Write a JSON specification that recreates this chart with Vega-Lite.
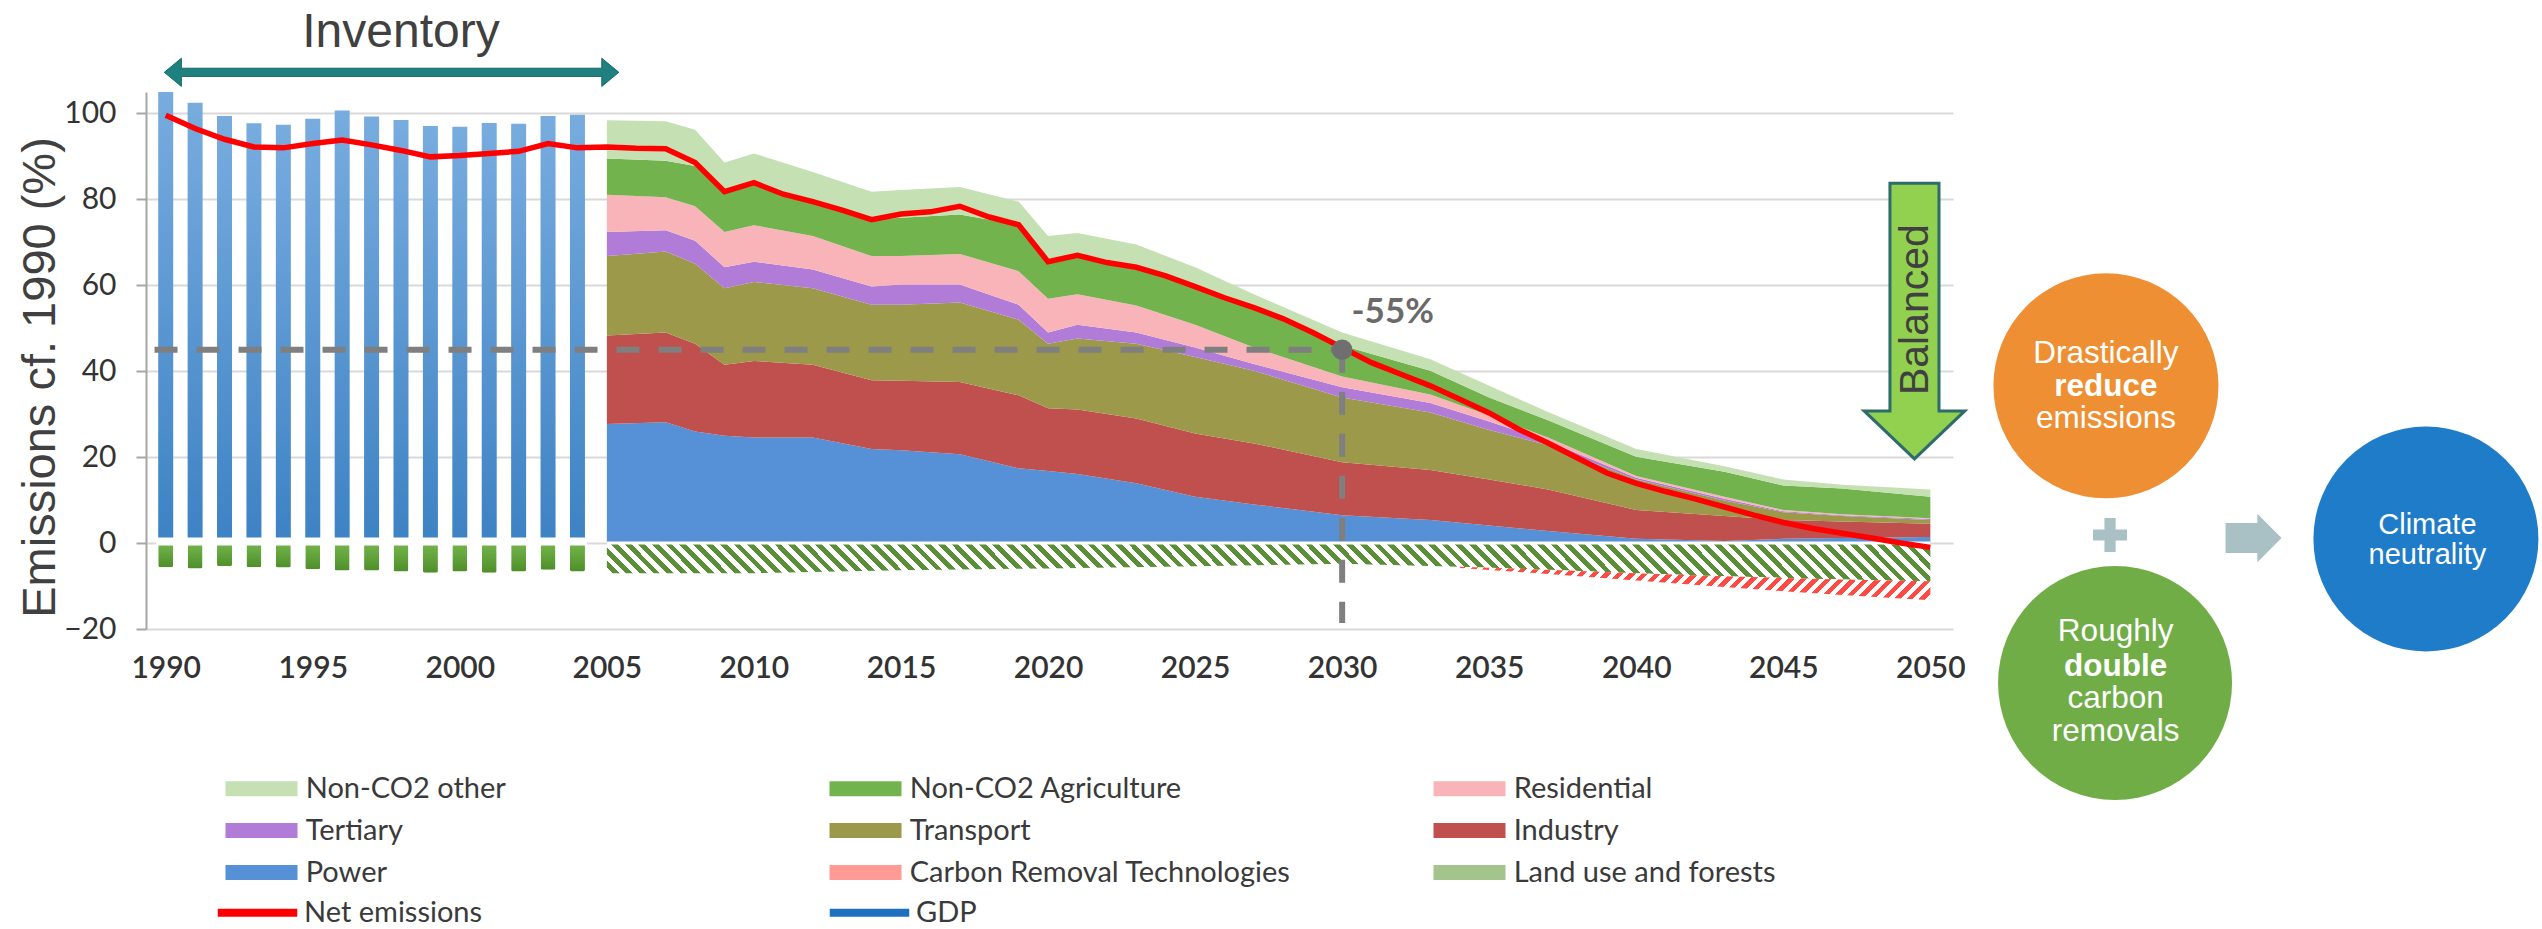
{
"$schema":"https://vega.github.io/schema/vega-lite/v6.json",
"width":1807,"height":537,
"autosize":{"type":"none"},
"padding":{"left":146,"top":92,"right":589,"bottom":300},
"background":"#ffffff",
"config":{"view":{"stroke":null},"font":"Liberation Sans",
 "axisX":{"domain":false,"ticks":false,"grid":false,"labelFont":"Lato","labelFontSize":30,"labelFontWeight":600,"labelColor":"#333333","labelPadding":24,"labelFlush":false,"labelOverlap":false},
 "axisY":{"domain":true,"domainColor":"#a6a6a6","domainWidth":2,"ticks":true,"tickColor":"#a6a6a6","tickSize":10,"tickWidth":2,"grid":true,"gridColor":"#d9d9d9","gridWidth":2,"labelFont":"Lato","labelFontSize":30,"labelColor":"#333333","labelPadding":20,"labelFlush":false,"titleFont":"Liberation Sans","titleFontSize":47,"titleFontWeight":"normal","titleColor":"#404040"}},
"datasets":{
"inventory":[
{"year":1990,"gross":105.0,"lulucf":-5.6},{"year":1991,"gross":102.5,"lulucf":-5.9},{"year":1992,"gross":99.4,"lulucf":-5.4},{"year":1993,"gross":97.7,"lulucf":-5.6},{"year":1994,"gross":97.4,"lulucf":-5.7},{"year":1995,"gross":98.8,"lulucf":-6.1},{"year":1996,"gross":100.7,"lulucf":-6.4},{"year":1997,"gross":99.3,"lulucf":-6.4},{"year":1998,"gross":98.5,"lulucf":-6.6},{"year":1999,"gross":97.1,"lulucf":-6.9},{"year":2000,"gross":96.9,"lulucf":-6.6},{"year":2001,"gross":97.8,"lulucf":-6.9},{"year":2002,"gross":97.6,"lulucf":-6.6},{"year":2003,"gross":99.4,"lulucf":-6.2},{"year":2004,"gross":99.7,"lulucf":-6.6}],
"sectors":[
{"year":2005,"Power":27.7,"Industry":20.6,"Transport":18.5,"Tertiary":5.6,"Residential":8.7,"Non-CO2 Agriculture":8.4,"Non-CO2 other":8.9},
{"year":2007,"Power":28.1,"Industry":20.9,"Transport":18.9,"Tertiary":4.9,"Residential":7.7,"Non-CO2 Agriculture":8.5,"Non-CO2 other":9.2},
{"year":2008,"Power":26.0,"Industry":20.4,"Transport":18.6,"Tertiary":5.4,"Residential":8.0,"Non-CO2 Agriculture":9.4,"Non-CO2 other":8.4},
{"year":2009,"Power":25.0,"Industry":16.5,"Transport":17.8,"Tertiary":4.9,"Residential":8.2,"Non-CO2 Agriculture":9.4,"Non-CO2 other":6.8},
{"year":2010,"Power":24.6,"Industry":17.8,"Transport":18.4,"Tertiary":4.7,"Residential":8.5,"Non-CO2 Agriculture":9.9,"Non-CO2 other":6.8},
{"year":2012,"Power":24.6,"Industry":16.9,"Transport":17.8,"Tertiary":4.4,"Residential":7.8,"Non-CO2 Agriculture":8.0,"Non-CO2 other":6.9},
{"year":2014,"Power":21.9,"Industry":16.0,"Transport":17.6,"Tertiary":4.2,"Residential":7.1,"Non-CO2 Agriculture":8.5,"Non-CO2 other":6.5},
{"year":2015,"Power":21.6,"Industry":16.2,"Transport":17.7,"Tertiary":4.7,"Residential":6.6,"Non-CO2 Agriculture":8.9,"Non-CO2 other":6.5},
{"year":2017,"Power":20.7,"Industry":16.8,"Transport":18.5,"Tertiary":4.2,"Residential":7.1,"Non-CO2 Agriculture":9.2,"Non-CO2 other":6.4},
{"year":2019,"Power":17.4,"Industry":17.0,"Transport":17.6,"Tertiary":3.5,"Residential":7.8,"Non-CO2 Agriculture":10.8,"Non-CO2 other":5.4},
{"year":2020,"Power":16.8,"Industry":14.6,"Transport":15.0,"Tertiary":2.6,"Residential":7.9,"Non-CO2 Agriculture":8.9,"Non-CO2 other":5.7},
{"year":2021,"Power":16.1,"Industry":15.0,"Transport":16.5,"Tertiary":3.2,"Residential":7.1,"Non-CO2 Agriculture":8.8,"Non-CO2 other":5.5},
{"year":2023,"Power":13.9,"Industry":15.1,"Transport":17.4,"Tertiary":2.6,"Residential":6.3,"Non-CO2 Agriculture":8.9,"Non-CO2 other":5.3},
{"year":2025,"Power":10.8,"Industry":14.7,"Transport":17.8,"Tertiary":2.2,"Residential":5.3,"Non-CO2 Agriculture":8.5,"Non-CO2 other":4.9},
{"year":2027,"Power":9.0,"Industry":14.2,"Transport":16.9,"Tertiary":1.6,"Residential":3.8,"Non-CO2 Agriculture":8.9,"Non-CO2 other":3.5},
{"year":2030,"Power":6.5,"Industry":12.3,"Transport":15.1,"Tertiary":2.4,"Residential":2.5,"Non-CO2 Agriculture":7.2,"Non-CO2 other":3.0},
{"year":2033,"Power":5.4,"Industry":11.6,"Transport":13.4,"Tertiary":2.2,"Residential":2.0,"Non-CO2 Agriculture":5.5,"Non-CO2 other":2.7},
{"year":2035,"Power":4.1,"Industry":10.7,"Transport":11.5,"Tertiary":2.0,"Residential":1.4,"Non-CO2 Agriculture":4.2,"Non-CO2 other":2.7},
{"year":2037,"Power":2.8,"Industry":9.7,"Transport":10.3,"Tertiary":0.9,"Residential":0.9,"Non-CO2 Agriculture":4.0,"Non-CO2 other":1.9},
{"year":2040,"Power":1.0,"Industry":6.7,"Transport":7.1,"Tertiary":0.4,"Residential":0.4,"Non-CO2 Agriculture":4.5,"Non-CO2 other":1.8},
{"year":2043,"Power":0.5,"Industry":5.8,"Transport":3.6,"Tertiary":0.4,"Residential":0.5,"Non-CO2 Agriculture":5.8,"Non-CO2 other":1.3},
{"year":2045,"Power":1.0,"Industry":4.4,"Transport":1.8,"Tertiary":0.2,"Residential":0.3,"Non-CO2 Agriculture":5.7,"Non-CO2 other":1.4},
{"year":2047,"Power":1.2,"Industry":3.8,"Transport":1.3,"Tertiary":0.2,"Residential":0.2,"Non-CO2 Agriculture":6.0,"Non-CO2 other":0.9},
{"year":2050,"Power":1.4,"Industry":3.1,"Transport":0.9,"Tertiary":0.2,"Residential":0.2,"Non-CO2 Agriculture":5.0,"Non-CO2 other":1.7}],
"removals":[
{"year":2005,"kind":"Land use and forests","value":-7.0},{"year":2010,"kind":"Land use and forests","value":-7.0},{"year":2015,"kind":"Land use and forests","value":-6.3},{"year":2020,"kind":"Land use and forests","value":-5.9},{"year":2025,"kind":"Land use and forests","value":-5.4},{"year":2030,"kind":"Land use and forests","value":-4.8},{"year":2034,"kind":"Land use and forests","value":-5.5},{"year":2037,"kind":"Land use and forests","value":-6.2},{"year":2040,"kind":"Land use and forests","value":-7.0},{"year":2043,"kind":"Land use and forests","value":-7.7},{"year":2045,"kind":"Land use and forests","value":-8.1},{"year":2047,"kind":"Land use and forests","value":-8.5},{"year":2050,"kind":"Land use and forests","value":-8.9},
{"year":2034,"kind":"Carbon Removal Technologies","value":-0.3},{"year":2037,"kind":"Carbon Removal Technologies","value":-1.0},{"year":2040,"kind":"Carbon Removal Technologies","value":-1.7},{"year":2043,"kind":"Carbon Removal Technologies","value":-2.5},{"year":2045,"kind":"Carbon Removal Technologies","value":-3.1},{"year":2047,"kind":"Carbon Removal Technologies","value":-3.6},{"year":2050,"kind":"Carbon Removal Technologies","value":-4.4}],
"net":[
{"year":1990,"net":99.6},{"year":1991,"net":96.5},{"year":1992,"net":94.0},{"year":1993,"net":92.2},{"year":1994,"net":92.0},{"year":1995,"net":93.0},{"year":1996,"net":93.8},{"year":1997,"net":92.7},{"year":1998,"net":91.4},{"year":1999,"net":89.9},{"year":2000,"net":90.2},{"year":2001,"net":90.7},{"year":2002,"net":91.2},{"year":2003,"net":93.0},{"year":2004,"net":92.0},{"year":2005,"net":92.2},{"year":2006,"net":91.9},{"year":2007,"net":91.8},{"year":2008,"net":88.6},{"year":2009,"net":81.8},{"year":2010,"net":83.9},{"year":2011,"net":81.2},{"year":2012,"net":79.5},{"year":2013,"net":77.5},{"year":2014,"net":75.3},{"year":2015,"net":76.6},{"year":2016,"net":77.1},{"year":2017,"net":78.4},{"year":2018,"net":75.9},{"year":2019,"net":74.1},{"year":2020,"net":65.5},{"year":2021,"net":67.0},{"year":2022,"net":65.3},{"year":2023,"net":64.2},{"year":2024,"net":62.2},{"year":2025,"net":59.7},{"year":2026,"net":57.1},{"year":2027,"net":54.8},{"year":2028,"net":52.2},{"year":2029,"net":49.0},{"year":2030,"net":45.5},{"year":2031,"net":42.0},{"year":2032,"net":39.3},{"year":2033,"net":36.6},{"year":2034,"net":33.5},{"year":2035,"net":30.3},{"year":2036,"net":26.5},{"year":2037,"net":23.3},{"year":2038,"net":19.8},{"year":2039,"net":16.3},{"year":2040,"net":13.9},{"year":2041,"net":12.0},{"year":2042,"net":10.3},{"year":2043,"net":8.4},{"year":2044,"net":6.5},{"year":2045,"net":4.8},{"year":2046,"net":3.4},{"year":2047,"net":2.3},{"year":2048,"net":1.2},{"year":2049,"net":0.0},{"year":2050,"net":-1.0}]
},
"layer":[
{"data":{"name":"inventory"},
 "mark":{"type":"bar","orient":"vertical","width":15,"fill":{"gradient":"linear","x1":0,"y1":0,"x2":0,"y2":1,"stops":[{"offset":0,"color":"#78acdf"},{"offset":1,"color":"#3d82c4"}]}},
 "encoding":{
  "x":{"field":"year","type":"quantitative","scale":{"domain":[1989.5,2050.6],"nice":false,"zero":false},
   "axis":{"values":[1990,1995,2000,2005,2010,2015,2020,2025,2030,2035,2040,2045,2050],"format":"d","title":null}},
  "y":{"field":"gross","type":"quantitative","scale":{"domain":[-20,105],"nice":false,"zero":false},
   "axis":{"values":[-20,0,20,40,60,80,100],"title":"Emissions cf. 1990 (%)","titleAngle":-90,"titleX":-106,"titleY":285,"titleAlign":"center","titleBaseline":"middle"}}
 }},
{"data":{"name":"inventory"},
 "mark":{"type":"bar","orient":"vertical","width":15,"cornerRadius":2,"fill":{"gradient":"linear","x1":0,"y1":0,"x2":0,"y2":1,"stops":[{"offset":0,"color":"#74b64c"},{"offset":1,"color":"#4f8f2b"}]}},
 "encoding":{
  "x":{"field":"year","type":"quantitative"},
  "y":{"field":"lulucf","type":"quantitative"}
 }},
{"data":{"values":[{}]},
 "mark":{"type":"rule","color":"#ffffff","strokeWidth":8},
 "encoding":{"x":{"datum":1989.68,"type":"quantitative"},"x2":{"datum":2004.32},"y":{"datum":0.35,"type":"quantitative"}}},
{"data":{"name":"sectors"},
 "transform":[{"fold":["Power","Industry","Transport","Tertiary","Residential","Non-CO2 Agriculture","Non-CO2 other"],"as":["sector","value"]},{"stack":"value","groupby":["year"],"as":["v0","v1"]}],
 "mark":{"type":"area","interpolate":"linear"},
 "encoding":{
  "x":{"field":"year","type":"quantitative"},
  "y":{"field":"v1","type":"quantitative"},
  "y2":{"field":"v0"},
  "color":{"field":"sector","type":"nominal",
   "scale":{"domain":["Non-CO2 other","Non-CO2 Agriculture","Residential","Tertiary","Transport","Industry","Power","Carbon Removal Technologies","Land use and forests"],
            "range":["#c5e0b3","#72b34e","#f9b4b9","#b07cd8","#9c994b","#c0504d","#5690d6","#ff9a94","#a3c48c"]},
   "legend":{"title":null,"orient":"none","direction":"horizontal","legendX":101,"legendY":682,"columns":3,"gridAlign":"all","columnPadding":142,"rowPadding":12,"padding":0,
    "labelFont":"Lato","labelFontSize":29,"labelColor":"#3a3a3a","labelLimit":1000,"labelOffset":29.7,
    "symbolSize":225,"symbolType":"M-4.8,-1H4.8V1H-4.8Z","symbolStrokeWidth":0,"symbolOffset":0,"symbolOpacity":1}}
 }},
{"data":{"name":"removals"},
 "transform":[{"stack":"value","groupby":["year"],"as":["r0","r1"]},{"filter":"datum.kind === 'Land use and forests'"}],
 "mark":{"type":"area","interpolate":"linear","fill":{"gradient":"linear","x1":0,"y1":1,"x2":1.0279,"y2":0.9705,"stops":[
{"offset":0,"color":"#5b8f37"},{"offset":0.005,"color":"#5b8f37"},{"offset":0.005,"color":"#fff"},{"offset":0.01,"color":"#fff"},
{"offset":0.01,"color":"#5b8f37"},{"offset":0.015,"color":"#5b8f37"},{"offset":0.015,"color":"#fff"},{"offset":0.02,"color":"#fff"},
{"offset":0.02,"color":"#5b8f37"},{"offset":0.025,"color":"#5b8f37"},{"offset":0.025,"color":"#fff"},{"offset":0.03,"color":"#fff"},
{"offset":0.03,"color":"#5b8f37"},{"offset":0.035,"color":"#5b8f37"},{"offset":0.035,"color":"#fff"},{"offset":0.04,"color":"#fff"},
{"offset":0.04,"color":"#5b8f37"},{"offset":0.045,"color":"#5b8f37"},{"offset":0.045,"color":"#fff"},{"offset":0.05,"color":"#fff"},
{"offset":0.05,"color":"#5b8f37"},{"offset":0.055,"color":"#5b8f37"},{"offset":0.055,"color":"#fff"},{"offset":0.06,"color":"#fff"},
{"offset":0.06,"color":"#5b8f37"},{"offset":0.065,"color":"#5b8f37"},{"offset":0.065,"color":"#fff"},{"offset":0.07,"color":"#fff"},
{"offset":0.07,"color":"#5b8f37"},{"offset":0.075,"color":"#5b8f37"},{"offset":0.075,"color":"#fff"},{"offset":0.08,"color":"#fff"},
{"offset":0.08,"color":"#5b8f37"},{"offset":0.085,"color":"#5b8f37"},{"offset":0.085,"color":"#fff"},{"offset":0.09,"color":"#fff"},
{"offset":0.09,"color":"#5b8f37"},{"offset":0.095,"color":"#5b8f37"},{"offset":0.095,"color":"#fff"},{"offset":0.1,"color":"#fff"},
{"offset":0.1,"color":"#5b8f37"},{"offset":0.105,"color":"#5b8f37"},{"offset":0.105,"color":"#fff"},{"offset":0.11,"color":"#fff"},
{"offset":0.11,"color":"#5b8f37"},{"offset":0.115,"color":"#5b8f37"},{"offset":0.115,"color":"#fff"},{"offset":0.12,"color":"#fff"},
{"offset":0.12,"color":"#5b8f37"},{"offset":0.125,"color":"#5b8f37"},{"offset":0.125,"color":"#fff"},{"offset":0.13,"color":"#fff"},
{"offset":0.13,"color":"#5b8f37"},{"offset":0.135,"color":"#5b8f37"},{"offset":0.135,"color":"#fff"},{"offset":0.14,"color":"#fff"},
{"offset":0.14,"color":"#5b8f37"},{"offset":0.145,"color":"#5b8f37"},{"offset":0.145,"color":"#fff"},{"offset":0.15,"color":"#fff"},
{"offset":0.15,"color":"#5b8f37"},{"offset":0.155,"color":"#5b8f37"},{"offset":0.155,"color":"#fff"},{"offset":0.16,"color":"#fff"},
{"offset":0.16,"color":"#5b8f37"},{"offset":0.165,"color":"#5b8f37"},{"offset":0.165,"color":"#fff"},{"offset":0.17,"color":"#fff"},
{"offset":0.17,"color":"#5b8f37"},{"offset":0.175,"color":"#5b8f37"},{"offset":0.175,"color":"#fff"},{"offset":0.18,"color":"#fff"},
{"offset":0.18,"color":"#5b8f37"},{"offset":0.185,"color":"#5b8f37"},{"offset":0.185,"color":"#fff"},{"offset":0.19,"color":"#fff"},
{"offset":0.19,"color":"#5b8f37"},{"offset":0.195,"color":"#5b8f37"},{"offset":0.195,"color":"#fff"},{"offset":0.2,"color":"#fff"},
{"offset":0.2,"color":"#5b8f37"},{"offset":0.205,"color":"#5b8f37"},{"offset":0.205,"color":"#fff"},{"offset":0.21,"color":"#fff"},
{"offset":0.21,"color":"#5b8f37"},{"offset":0.215,"color":"#5b8f37"},{"offset":0.215,"color":"#fff"},{"offset":0.22,"color":"#fff"},
{"offset":0.22,"color":"#5b8f37"},{"offset":0.225,"color":"#5b8f37"},{"offset":0.225,"color":"#fff"},{"offset":0.23,"color":"#fff"},
{"offset":0.23,"color":"#5b8f37"},{"offset":0.235,"color":"#5b8f37"},{"offset":0.235,"color":"#fff"},{"offset":0.24,"color":"#fff"},
{"offset":0.24,"color":"#5b8f37"},{"offset":0.245,"color":"#5b8f37"},{"offset":0.245,"color":"#fff"},{"offset":0.25,"color":"#fff"},
{"offset":0.25,"color":"#5b8f37"},{"offset":0.255,"color":"#5b8f37"},{"offset":0.255,"color":"#fff"},{"offset":0.26,"color":"#fff"},
{"offset":0.26,"color":"#5b8f37"},{"offset":0.265,"color":"#5b8f37"},{"offset":0.265,"color":"#fff"},{"offset":0.27,"color":"#fff"},
{"offset":0.27,"color":"#5b8f37"},{"offset":0.275,"color":"#5b8f37"},{"offset":0.275,"color":"#fff"},{"offset":0.28,"color":"#fff"},
{"offset":0.28,"color":"#5b8f37"},{"offset":0.285,"color":"#5b8f37"},{"offset":0.285,"color":"#fff"},{"offset":0.29,"color":"#fff"},
{"offset":0.29,"color":"#5b8f37"},{"offset":0.295,"color":"#5b8f37"},{"offset":0.295,"color":"#fff"},{"offset":0.3,"color":"#fff"},
{"offset":0.3,"color":"#5b8f37"},{"offset":0.305,"color":"#5b8f37"},{"offset":0.305,"color":"#fff"},{"offset":0.31,"color":"#fff"},
{"offset":0.31,"color":"#5b8f37"},{"offset":0.315,"color":"#5b8f37"},{"offset":0.315,"color":"#fff"},{"offset":0.32,"color":"#fff"},
{"offset":0.32,"color":"#5b8f37"},{"offset":0.325,"color":"#5b8f37"},{"offset":0.325,"color":"#fff"},{"offset":0.33,"color":"#fff"},
{"offset":0.33,"color":"#5b8f37"},{"offset":0.335,"color":"#5b8f37"},{"offset":0.335,"color":"#fff"},{"offset":0.34,"color":"#fff"},
{"offset":0.34,"color":"#5b8f37"},{"offset":0.345,"color":"#5b8f37"},{"offset":0.345,"color":"#fff"},{"offset":0.35,"color":"#fff"},
{"offset":0.35,"color":"#5b8f37"},{"offset":0.355,"color":"#5b8f37"},{"offset":0.355,"color":"#fff"},{"offset":0.36,"color":"#fff"},
{"offset":0.36,"color":"#5b8f37"},{"offset":0.365,"color":"#5b8f37"},{"offset":0.365,"color":"#fff"},{"offset":0.37,"color":"#fff"},
{"offset":0.37,"color":"#5b8f37"},{"offset":0.375,"color":"#5b8f37"},{"offset":0.375,"color":"#fff"},{"offset":0.38,"color":"#fff"},
{"offset":0.38,"color":"#5b8f37"},{"offset":0.385,"color":"#5b8f37"},{"offset":0.385,"color":"#fff"},{"offset":0.39,"color":"#fff"},
{"offset":0.39,"color":"#5b8f37"},{"offset":0.395,"color":"#5b8f37"},{"offset":0.395,"color":"#fff"},{"offset":0.4,"color":"#fff"},
{"offset":0.4,"color":"#5b8f37"},{"offset":0.405,"color":"#5b8f37"},{"offset":0.405,"color":"#fff"},{"offset":0.41,"color":"#fff"},
{"offset":0.41,"color":"#5b8f37"},{"offset":0.415,"color":"#5b8f37"},{"offset":0.415,"color":"#fff"},{"offset":0.42,"color":"#fff"},
{"offset":0.42,"color":"#5b8f37"},{"offset":0.425,"color":"#5b8f37"},{"offset":0.425,"color":"#fff"},{"offset":0.43,"color":"#fff"},
{"offset":0.43,"color":"#5b8f37"},{"offset":0.435,"color":"#5b8f37"},{"offset":0.435,"color":"#fff"},{"offset":0.44,"color":"#fff"},
{"offset":0.44,"color":"#5b8f37"},{"offset":0.445,"color":"#5b8f37"},{"offset":0.445,"color":"#fff"},{"offset":0.45,"color":"#fff"},
{"offset":0.45,"color":"#5b8f37"},{"offset":0.455,"color":"#5b8f37"},{"offset":0.455,"color":"#fff"},{"offset":0.46,"color":"#fff"},
{"offset":0.46,"color":"#5b8f37"},{"offset":0.465,"color":"#5b8f37"},{"offset":0.465,"color":"#fff"},{"offset":0.47,"color":"#fff"},
{"offset":0.47,"color":"#5b8f37"},{"offset":0.475,"color":"#5b8f37"},{"offset":0.475,"color":"#fff"},{"offset":0.48,"color":"#fff"},
{"offset":0.48,"color":"#5b8f37"},{"offset":0.485,"color":"#5b8f37"},{"offset":0.485,"color":"#fff"},{"offset":0.49,"color":"#fff"},
{"offset":0.49,"color":"#5b8f37"},{"offset":0.495,"color":"#5b8f37"},{"offset":0.495,"color":"#fff"},{"offset":0.5,"color":"#fff"},
{"offset":0.5,"color":"#5b8f37"},{"offset":0.505,"color":"#5b8f37"},{"offset":0.505,"color":"#fff"},{"offset":0.51,"color":"#fff"},
{"offset":0.51,"color":"#5b8f37"},{"offset":0.515,"color":"#5b8f37"},{"offset":0.515,"color":"#fff"},{"offset":0.52,"color":"#fff"},
{"offset":0.52,"color":"#5b8f37"},{"offset":0.525,"color":"#5b8f37"},{"offset":0.525,"color":"#fff"},{"offset":0.53,"color":"#fff"},
{"offset":0.53,"color":"#5b8f37"},{"offset":0.535,"color":"#5b8f37"},{"offset":0.535,"color":"#fff"},{"offset":0.54,"color":"#fff"},
{"offset":0.54,"color":"#5b8f37"},{"offset":0.545,"color":"#5b8f37"},{"offset":0.545,"color":"#fff"},{"offset":0.55,"color":"#fff"},
{"offset":0.55,"color":"#5b8f37"},{"offset":0.555,"color":"#5b8f37"},{"offset":0.555,"color":"#fff"},{"offset":0.56,"color":"#fff"},
{"offset":0.56,"color":"#5b8f37"},{"offset":0.565,"color":"#5b8f37"},{"offset":0.565,"color":"#fff"},{"offset":0.57,"color":"#fff"},
{"offset":0.57,"color":"#5b8f37"},{"offset":0.575,"color":"#5b8f37"},{"offset":0.575,"color":"#fff"},{"offset":0.58,"color":"#fff"},
{"offset":0.58,"color":"#5b8f37"},{"offset":0.585,"color":"#5b8f37"},{"offset":0.585,"color":"#fff"},{"offset":0.59,"color":"#fff"},
{"offset":0.59,"color":"#5b8f37"},{"offset":0.595,"color":"#5b8f37"},{"offset":0.595,"color":"#fff"},{"offset":0.6,"color":"#fff"},
{"offset":0.6,"color":"#5b8f37"},{"offset":0.605,"color":"#5b8f37"},{"offset":0.605,"color":"#fff"},{"offset":0.61,"color":"#fff"},
{"offset":0.61,"color":"#5b8f37"},{"offset":0.615,"color":"#5b8f37"},{"offset":0.615,"color":"#fff"},{"offset":0.62,"color":"#fff"},
{"offset":0.62,"color":"#5b8f37"},{"offset":0.625,"color":"#5b8f37"},{"offset":0.625,"color":"#fff"},{"offset":0.63,"color":"#fff"},
{"offset":0.63,"color":"#5b8f37"},{"offset":0.635,"color":"#5b8f37"},{"offset":0.635,"color":"#fff"},{"offset":0.64,"color":"#fff"},
{"offset":0.64,"color":"#5b8f37"},{"offset":0.645,"color":"#5b8f37"},{"offset":0.645,"color":"#fff"},{"offset":0.65,"color":"#fff"},
{"offset":0.65,"color":"#5b8f37"},{"offset":0.655,"color":"#5b8f37"},{"offset":0.655,"color":"#fff"},{"offset":0.66,"color":"#fff"},
{"offset":0.66,"color":"#5b8f37"},{"offset":0.665,"color":"#5b8f37"},{"offset":0.665,"color":"#fff"},{"offset":0.67,"color":"#fff"},
{"offset":0.67,"color":"#5b8f37"},{"offset":0.675,"color":"#5b8f37"},{"offset":0.675,"color":"#fff"},{"offset":0.68,"color":"#fff"},
{"offset":0.68,"color":"#5b8f37"},{"offset":0.685,"color":"#5b8f37"},{"offset":0.685,"color":"#fff"},{"offset":0.69,"color":"#fff"},
{"offset":0.69,"color":"#5b8f37"},{"offset":0.695,"color":"#5b8f37"},{"offset":0.695,"color":"#fff"},{"offset":0.7,"color":"#fff"},
{"offset":0.7,"color":"#5b8f37"},{"offset":0.705,"color":"#5b8f37"},{"offset":0.705,"color":"#fff"},{"offset":0.71,"color":"#fff"},
{"offset":0.71,"color":"#5b8f37"},{"offset":0.715,"color":"#5b8f37"},{"offset":0.715,"color":"#fff"},{"offset":0.72,"color":"#fff"},
{"offset":0.72,"color":"#5b8f37"},{"offset":0.725,"color":"#5b8f37"},{"offset":0.725,"color":"#fff"},{"offset":0.73,"color":"#fff"},
{"offset":0.73,"color":"#5b8f37"},{"offset":0.735,"color":"#5b8f37"},{"offset":0.735,"color":"#fff"},{"offset":0.74,"color":"#fff"},
{"offset":0.74,"color":"#5b8f37"},{"offset":0.745,"color":"#5b8f37"},{"offset":0.745,"color":"#fff"},{"offset":0.75,"color":"#fff"},
{"offset":0.75,"color":"#5b8f37"},{"offset":0.755,"color":"#5b8f37"},{"offset":0.755,"color":"#fff"},{"offset":0.76,"color":"#fff"},
{"offset":0.76,"color":"#5b8f37"},{"offset":0.765,"color":"#5b8f37"},{"offset":0.765,"color":"#fff"},{"offset":0.77,"color":"#fff"},
{"offset":0.77,"color":"#5b8f37"},{"offset":0.775,"color":"#5b8f37"},{"offset":0.775,"color":"#fff"},{"offset":0.78,"color":"#fff"},
{"offset":0.78,"color":"#5b8f37"},{"offset":0.785,"color":"#5b8f37"},{"offset":0.785,"color":"#fff"},{"offset":0.79,"color":"#fff"},
{"offset":0.79,"color":"#5b8f37"},{"offset":0.795,"color":"#5b8f37"},{"offset":0.795,"color":"#fff"},{"offset":0.8,"color":"#fff"},
{"offset":0.8,"color":"#5b8f37"},{"offset":0.805,"color":"#5b8f37"},{"offset":0.805,"color":"#fff"},{"offset":0.81,"color":"#fff"},
{"offset":0.81,"color":"#5b8f37"},{"offset":0.815,"color":"#5b8f37"},{"offset":0.815,"color":"#fff"},{"offset":0.82,"color":"#fff"},
{"offset":0.82,"color":"#5b8f37"},{"offset":0.825,"color":"#5b8f37"},{"offset":0.825,"color":"#fff"},{"offset":0.83,"color":"#fff"},
{"offset":0.83,"color":"#5b8f37"},{"offset":0.835,"color":"#5b8f37"},{"offset":0.835,"color":"#fff"},{"offset":0.84,"color":"#fff"},
{"offset":0.84,"color":"#5b8f37"},{"offset":0.845,"color":"#5b8f37"},{"offset":0.845,"color":"#fff"},{"offset":0.85,"color":"#fff"},
{"offset":0.85,"color":"#5b8f37"},{"offset":0.855,"color":"#5b8f37"},{"offset":0.855,"color":"#fff"},{"offset":0.86,"color":"#fff"},
{"offset":0.86,"color":"#5b8f37"},{"offset":0.865,"color":"#5b8f37"},{"offset":0.865,"color":"#fff"},{"offset":0.87,"color":"#fff"},
{"offset":0.87,"color":"#5b8f37"},{"offset":0.875,"color":"#5b8f37"},{"offset":0.875,"color":"#fff"},{"offset":0.88,"color":"#fff"},
{"offset":0.88,"color":"#5b8f37"},{"offset":0.885,"color":"#5b8f37"},{"offset":0.885,"color":"#fff"},{"offset":0.89,"color":"#fff"},
{"offset":0.89,"color":"#5b8f37"},{"offset":0.895,"color":"#5b8f37"},{"offset":0.895,"color":"#fff"},{"offset":0.9,"color":"#fff"},
{"offset":0.9,"color":"#5b8f37"},{"offset":0.905,"color":"#5b8f37"},{"offset":0.905,"color":"#fff"},{"offset":0.91,"color":"#fff"},
{"offset":0.91,"color":"#5b8f37"},{"offset":0.915,"color":"#5b8f37"},{"offset":0.915,"color":"#fff"},{"offset":0.92,"color":"#fff"},
{"offset":0.92,"color":"#5b8f37"},{"offset":0.925,"color":"#5b8f37"},{"offset":0.925,"color":"#fff"},{"offset":0.93,"color":"#fff"},
{"offset":0.93,"color":"#5b8f37"},{"offset":0.935,"color":"#5b8f37"},{"offset":0.935,"color":"#fff"},{"offset":0.94,"color":"#fff"},
{"offset":0.94,"color":"#5b8f37"},{"offset":0.945,"color":"#5b8f37"},{"offset":0.945,"color":"#fff"},{"offset":0.95,"color":"#fff"},
{"offset":0.95,"color":"#5b8f37"},{"offset":0.955,"color":"#5b8f37"},{"offset":0.955,"color":"#fff"},{"offset":0.96,"color":"#fff"},
{"offset":0.96,"color":"#5b8f37"},{"offset":0.965,"color":"#5b8f37"},{"offset":0.965,"color":"#fff"},{"offset":0.97,"color":"#fff"},
{"offset":0.97,"color":"#5b8f37"},{"offset":0.975,"color":"#5b8f37"},{"offset":0.975,"color":"#fff"},{"offset":0.98,"color":"#fff"},
{"offset":0.98,"color":"#5b8f37"},{"offset":0.985,"color":"#5b8f37"},{"offset":0.985,"color":"#fff"},{"offset":0.99,"color":"#fff"},
{"offset":0.99,"color":"#5b8f37"},{"offset":0.995,"color":"#5b8f37"},{"offset":0.995,"color":"#fff"},{"offset":1,"color":"#fff"}]}},
 "encoding":{
  "x":{"field":"year","type":"quantitative"},
  "y":{"field":"r1","type":"quantitative"},
  "y2":{"field":"r0"}
 }},
{"data":{"name":"removals"},
 "transform":[{"stack":"value","groupby":["year"],"as":["r0","r1"]},{"filter":"datum.kind === 'Carbon Removal Technologies'"}],
 "mark":{"type":"area","interpolate":"linear","fill":{"gradient":"linear","x1":0,"y1":0,"x2":1.0655,"y2":0.0754,"stops":[
{"offset":0,"color":"#ff4b43"},{"offset":0.0125,"color":"#ff4b43"},{"offset":0.0125,"color":"#fff"},{"offset":0.025,"color":"#fff"},
{"offset":0.025,"color":"#ff4b43"},{"offset":0.0375,"color":"#ff4b43"},{"offset":0.0375,"color":"#fff"},{"offset":0.05,"color":"#fff"},
{"offset":0.05,"color":"#ff4b43"},{"offset":0.0625,"color":"#ff4b43"},{"offset":0.0625,"color":"#fff"},{"offset":0.075,"color":"#fff"},
{"offset":0.075,"color":"#ff4b43"},{"offset":0.0875,"color":"#ff4b43"},{"offset":0.0875,"color":"#fff"},{"offset":0.1,"color":"#fff"},
{"offset":0.1,"color":"#ff4b43"},{"offset":0.1125,"color":"#ff4b43"},{"offset":0.1125,"color":"#fff"},{"offset":0.125,"color":"#fff"},
{"offset":0.125,"color":"#ff4b43"},{"offset":0.1375,"color":"#ff4b43"},{"offset":0.1375,"color":"#fff"},{"offset":0.15,"color":"#fff"},
{"offset":0.15,"color":"#ff4b43"},{"offset":0.1625,"color":"#ff4b43"},{"offset":0.1625,"color":"#fff"},{"offset":0.175,"color":"#fff"},
{"offset":0.175,"color":"#ff4b43"},{"offset":0.1875,"color":"#ff4b43"},{"offset":0.1875,"color":"#fff"},{"offset":0.2,"color":"#fff"},
{"offset":0.2,"color":"#ff4b43"},{"offset":0.2125,"color":"#ff4b43"},{"offset":0.2125,"color":"#fff"},{"offset":0.225,"color":"#fff"},
{"offset":0.225,"color":"#ff4b43"},{"offset":0.2375,"color":"#ff4b43"},{"offset":0.2375,"color":"#fff"},{"offset":0.25,"color":"#fff"},
{"offset":0.25,"color":"#ff4b43"},{"offset":0.2625,"color":"#ff4b43"},{"offset":0.2625,"color":"#fff"},{"offset":0.275,"color":"#fff"},
{"offset":0.275,"color":"#ff4b43"},{"offset":0.2875,"color":"#ff4b43"},{"offset":0.2875,"color":"#fff"},{"offset":0.3,"color":"#fff"},
{"offset":0.3,"color":"#ff4b43"},{"offset":0.3125,"color":"#ff4b43"},{"offset":0.3125,"color":"#fff"},{"offset":0.325,"color":"#fff"},
{"offset":0.325,"color":"#ff4b43"},{"offset":0.3375,"color":"#ff4b43"},{"offset":0.3375,"color":"#fff"},{"offset":0.35,"color":"#fff"},
{"offset":0.35,"color":"#ff4b43"},{"offset":0.3625,"color":"#ff4b43"},{"offset":0.3625,"color":"#fff"},{"offset":0.375,"color":"#fff"},
{"offset":0.375,"color":"#ff4b43"},{"offset":0.3875,"color":"#ff4b43"},{"offset":0.3875,"color":"#fff"},{"offset":0.4,"color":"#fff"},
{"offset":0.4,"color":"#ff4b43"},{"offset":0.4125,"color":"#ff4b43"},{"offset":0.4125,"color":"#fff"},{"offset":0.425,"color":"#fff"},
{"offset":0.425,"color":"#ff4b43"},{"offset":0.4375,"color":"#ff4b43"},{"offset":0.4375,"color":"#fff"},{"offset":0.45,"color":"#fff"},
{"offset":0.45,"color":"#ff4b43"},{"offset":0.4625,"color":"#ff4b43"},{"offset":0.4625,"color":"#fff"},{"offset":0.475,"color":"#fff"},
{"offset":0.475,"color":"#ff4b43"},{"offset":0.4875,"color":"#ff4b43"},{"offset":0.4875,"color":"#fff"},{"offset":0.5,"color":"#fff"},
{"offset":0.5,"color":"#ff4b43"},{"offset":0.5125,"color":"#ff4b43"},{"offset":0.5125,"color":"#fff"},{"offset":0.525,"color":"#fff"},
{"offset":0.525,"color":"#ff4b43"},{"offset":0.5375,"color":"#ff4b43"},{"offset":0.5375,"color":"#fff"},{"offset":0.55,"color":"#fff"},
{"offset":0.55,"color":"#ff4b43"},{"offset":0.5625,"color":"#ff4b43"},{"offset":0.5625,"color":"#fff"},{"offset":0.575,"color":"#fff"},
{"offset":0.575,"color":"#ff4b43"},{"offset":0.5875,"color":"#ff4b43"},{"offset":0.5875,"color":"#fff"},{"offset":0.6,"color":"#fff"},
{"offset":0.6,"color":"#ff4b43"},{"offset":0.6125,"color":"#ff4b43"},{"offset":0.6125,"color":"#fff"},{"offset":0.625,"color":"#fff"},
{"offset":0.625,"color":"#ff4b43"},{"offset":0.6375,"color":"#ff4b43"},{"offset":0.6375,"color":"#fff"},{"offset":0.65,"color":"#fff"},
{"offset":0.65,"color":"#ff4b43"},{"offset":0.6625,"color":"#ff4b43"},{"offset":0.6625,"color":"#fff"},{"offset":0.675,"color":"#fff"},
{"offset":0.675,"color":"#ff4b43"},{"offset":0.6875,"color":"#ff4b43"},{"offset":0.6875,"color":"#fff"},{"offset":0.7,"color":"#fff"},
{"offset":0.7,"color":"#ff4b43"},{"offset":0.7125,"color":"#ff4b43"},{"offset":0.7125,"color":"#fff"},{"offset":0.725,"color":"#fff"},
{"offset":0.725,"color":"#ff4b43"},{"offset":0.7375,"color":"#ff4b43"},{"offset":0.7375,"color":"#fff"},{"offset":0.75,"color":"#fff"},
{"offset":0.75,"color":"#ff4b43"},{"offset":0.7625,"color":"#ff4b43"},{"offset":0.7625,"color":"#fff"},{"offset":0.775,"color":"#fff"},
{"offset":0.775,"color":"#ff4b43"},{"offset":0.7875,"color":"#ff4b43"},{"offset":0.7875,"color":"#fff"},{"offset":0.8,"color":"#fff"},
{"offset":0.8,"color":"#ff4b43"},{"offset":0.8125,"color":"#ff4b43"},{"offset":0.8125,"color":"#fff"},{"offset":0.825,"color":"#fff"},
{"offset":0.825,"color":"#ff4b43"},{"offset":0.8375,"color":"#ff4b43"},{"offset":0.8375,"color":"#fff"},{"offset":0.85,"color":"#fff"},
{"offset":0.85,"color":"#ff4b43"},{"offset":0.8625,"color":"#ff4b43"},{"offset":0.8625,"color":"#fff"},{"offset":0.875,"color":"#fff"},
{"offset":0.875,"color":"#ff4b43"},{"offset":0.8875,"color":"#ff4b43"},{"offset":0.8875,"color":"#fff"},{"offset":0.9,"color":"#fff"},
{"offset":0.9,"color":"#ff4b43"},{"offset":0.9125,"color":"#ff4b43"},{"offset":0.9125,"color":"#fff"},{"offset":0.925,"color":"#fff"},
{"offset":0.925,"color":"#ff4b43"},{"offset":0.9375,"color":"#ff4b43"},{"offset":0.9375,"color":"#fff"},{"offset":0.95,"color":"#fff"},
{"offset":0.95,"color":"#ff4b43"},{"offset":0.9625,"color":"#ff4b43"},{"offset":0.9625,"color":"#fff"},{"offset":0.975,"color":"#fff"},
{"offset":0.975,"color":"#ff4b43"},{"offset":0.9875,"color":"#ff4b43"},{"offset":0.9875,"color":"#fff"},{"offset":1,"color":"#fff"}]}},
 "encoding":{
  "x":{"field":"year","type":"quantitative"},
  "y":{"field":"r1","type":"quantitative"},
  "y2":{"field":"r0"}
 }},
{"data":{"values":[{}]},
 "mark":{"type":"rule","color":"#ffffff","strokeWidth":3},
 "encoding":{"x":{"datum":2005,"type":"quantitative"},"x2":{"datum":2050},"y":{"datum":0,"type":"quantitative"}}},
{"data":{"name":"net"},
 "mark":{"type":"line","strokeWidth":5.5,"interpolate":"linear"},
 "encoding":{"x":{"field":"year","type":"quantitative"},"y":{"field":"net","type":"quantitative"},
  "stroke":{"datum":"Net emissions","type":"nominal","scale":{"domain":["Net emissions","GDP"],"range":["#ff0000","#1f6fc0"]},
   "legend":{"title":null,"orient":"none","direction":"horizontal","legendX":97,"legendY":806,"columns":2,"gridAlign":"all","columnPadding":330,"padding":0,
    "labelFont":"Lato","labelFontSize":29,"labelColor":"#3a3a3a","labelLimit":1000,"labelOffset":32,
    "symbolSize":225,"symbolType":"M-5.3,0H5.3","symbolStrokeWidth":8,"symbolOffset":0,"symbolOpacity":1}}}},
{"data":{"values":[{}]},
 "mark":{"type":"rule","color":"#7f7f7f","strokeWidth":6,"strokeDash":[23,19]},
 "encoding":{"x":{"datum":1989.62,"type":"quantitative"},"x2":{"datum":2030},"y":{"datum":45,"type":"quantitative"}}},
{"data":{"values":[{}]},
 "mark":{"type":"rule","color":"#7f7f7f","strokeWidth":6,"strokeDash":[23,19]},
 "encoding":{"x":{"datum":2030,"type":"quantitative"},"y":{"datum":45,"type":"quantitative"},"y2":{"datum":-18.6}}},
{"data":{"values":[{}]},
 "mark":{"type":"point","shape":"circle","filled":true,"size":424,"color":"#6f6f6f","opacity":1},
 "encoding":{"x":{"datum":2030,"type":"quantitative"},"y":{"datum":45,"type":"quantitative"}}},
{"data":{"values":[{}]},
 "mark":{"type":"text","font":"Lato","fontSize":35,"fontWeight":"bold","color":"#6a6a6a","align":"left","baseline":"alphabetic","text":"-55%"},
 "encoding":{"x":{"datum":2030.32,"type":"quantitative"},"y":{"datum":51.16,"type":"quantitative"}}},
{"data":{"values":[{}]},
 "mark":{"type":"point","shape":"M-1,0L-0.925,-0.062L-0.925,-0.018L0.925,-0.018L0.925,-0.062L1,0L0.925,0.062L0.925,0.018L-0.925,0.018L-0.925,0.062Z","filled":true,"size":206570,"color":"#1f8080","stroke":"#176a6a","strokeWidth":1,"opacity":1},
 "encoding":{"x":{"datum":1997.68,"type":"quantitative"},"y":{"datum":109.58,"type":"quantitative"}}},
{"data":{"values":[{}]},
 "mark":{"type":"text","font":"Liberation Sans","fontSize":48,"color":"#404040","align":"center","baseline":"alphabetic","text":"Inventory"},
 "encoding":{"x":{"datum":1998.0,"type":"quantitative"},"y":{"datum":115.47,"type":"quantitative"}}},
{"data":{"values":[{}]},
 "mark":{"type":"point","shape":"M-0.178,-1L0.178,-1L0.178,0.652L0.365,0.652L0,1L-0.365,0.652L-0.178,0.652Z","filled":true,"size":75955,"color":"#92d050","stroke":"#2e6b6b","strokeWidth":3,"opacity":1},
 "encoding":{"x":{"datum":2049.46,"type":"quantitative"},"y":{"datum":51.67,"type":"quantitative"}}},
{"data":{"values":[{}]},
 "mark":{"type":"text","font":"Liberation Sans","fontSize":41,"color":"#404040","align":"center","baseline":"middle","angle":270,"text":"Balanced"},
 "encoding":{"x":{"datum":2049.5,"type":"quantitative"},"y":{"datum":54.35,"type":"quantitative"}}},
{"data":{"values":[{}]},
 "mark":{"type":"point","shape":"circle","filled":true,"size":50625,"color":"#ee8f33","opacity":1},
 "encoding":{"x":{"datum":2055.97,"type":"quantitative"},"y":{"datum":36.61,"type":"quantitative"}}},
{"data":{"values":[{}]},
 "mark":{"type":"point","shape":"circle","filled":true,"size":54756,"color":"#70ad47","opacity":1},
 "encoding":{"x":{"datum":2056.28,"type":"quantitative"},"y":{"datum":-32.57,"type":"quantitative"}}},
{"data":{"values":[{}]},
 "mark":{"type":"point","shape":"circle","filled":true,"size":50625,"color":"#1f7cc8","opacity":1},
 "encoding":{"x":{"datum":2066.85,"type":"quantitative"},"y":{"datum":0.95,"type":"quantitative"}}},
{"data":{"values":[{}]},
 "mark":{"type":"point","shape":"M-0.33,-1H0.33V-0.33H1V0.33H0.33V1H-0.33V0.33H-1V-0.33H-0.33Z","filled":true,"size":1156,"color":"#a9c0c4","opacity":1},
 "encoding":{"x":{"datum":2056.11,"type":"quantitative"},"y":{"datum":1.88,"type":"quantitative"}}},
{"data":{"values":[{}]},
 "mark":{"type":"point","shape":"M-1,-0.536H0.134V-0.866L1,0L0.134,0.866V0.536H-1Z","filled":true,"size":3136,"color":"#a9c0c4","opacity":1},
 "encoding":{"x":{"datum":2060.99,"type":"quantitative"},"y":{"datum":1.18,"type":"quantitative"}}},
{"data":{"values":[{}]},
 "mark":{"type":"text","font":"Liberation Sans","fontSize":31.5,"color":"#ffffff","align":"center","baseline":"middle","text":"Drastically"},
 "encoding":{"x":{"datum":2055.97,"type":"quantitative"},"y":{"datum":44.06,"type":"quantitative"}}},
{"data":{"values":[{}]},
 "mark":{"type":"text","font":"Liberation Sans","fontSize":31.5,"fontWeight":"bold","color":"#ffffff","align":"center","baseline":"middle","text":"reduce"},
 "encoding":{"x":{"datum":2055.97,"type":"quantitative"},"y":{"datum":36.28,"type":"quantitative"}}},
{"data":{"values":[{}]},
 "mark":{"type":"text","font":"Liberation Sans","fontSize":31.5,"color":"#ffffff","align":"center","baseline":"middle","text":"emissions"},
 "encoding":{"x":{"datum":2055.97,"type":"quantitative"},"y":{"datum":28.93,"type":"quantitative"}}},
{"data":{"values":[{}]},
 "mark":{"type":"text","font":"Liberation Sans","fontSize":31.5,"color":"#ffffff","align":"center","baseline":"middle","text":"Roughly"},
 "encoding":{"x":{"datum":2056.3,"type":"quantitative"},"y":{"datum":-20.75,"type":"quantitative"}}},
{"data":{"values":[{}]},
 "mark":{"type":"text","font":"Liberation Sans","fontSize":31.5,"fontWeight":"bold","color":"#ffffff","align":"center","baseline":"middle","text":"double"},
 "encoding":{"x":{"datum":2056.3,"type":"quantitative"},"y":{"datum":-28.89,"type":"quantitative"}}},
{"data":{"values":[{}]},
 "mark":{"type":"text","font":"Liberation Sans","fontSize":31.5,"color":"#ffffff","align":"center","baseline":"middle","text":"carbon"},
 "encoding":{"x":{"datum":2056.3,"type":"quantitative"},"y":{"datum":-36.27,"type":"quantitative"}}},
{"data":{"values":[{}]},
 "mark":{"type":"text","font":"Liberation Sans","fontSize":31.5,"color":"#ffffff","align":"center","baseline":"middle","text":"removals"},
 "encoding":{"x":{"datum":2056.3,"type":"quantitative"},"y":{"datum":-44.02,"type":"quantitative"}}},
{"data":{"values":[{}]},
 "mark":{"type":"text","font":"Liberation Sans","fontSize":29,"color":"#ffffff","align":"center","baseline":"middle","text":"Climate"},
 "encoding":{"x":{"datum":2066.9,"type":"quantitative"},"y":{"datum":4.3,"type":"quantitative"}}},
{"data":{"values":[{}]},
 "mark":{"type":"text","font":"Liberation Sans","fontSize":29,"color":"#ffffff","align":"center","baseline":"middle","text":"neutrality"},
 "encoding":{"x":{"datum":2066.9,"type":"quantitative"},"y":{"datum":-2.68,"type":"quantitative"}}}
]
}
